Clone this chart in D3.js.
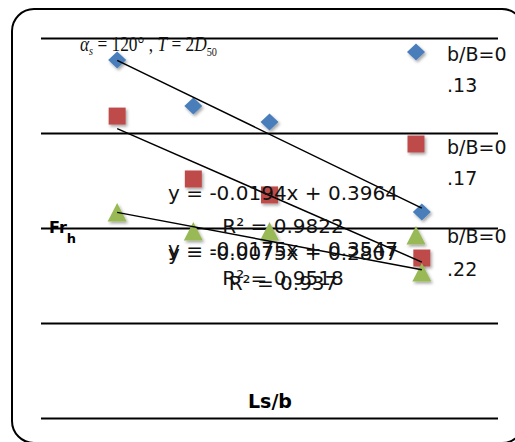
<!DOCTYPE html>
<html><head><meta charset="utf-8">
<script src="https://cdn.jsdelivr.net/npm/d3@7"></script>
<style>html,body{margin:0;padding:0;background:#fff;overflow:hidden}</style>
</head><body>
<svg id="c" width="515" height="442"></svg>
<script>
// ---- data ----
const xVals = [2, 3, 4, 6];
const seriesNames = ["b/B=0.13", "b/B=0.17", "b/B=0.22"];
const series1 = [0.3584, 0.3342, 0.3258, 0.2784];
const series2 = [0.3289, 0.2958, 0.2874, 0.2542];
const series3 = [0.2779, 0.2679, 0.2679, 0.2463];
const yTicks = [0.17, 0.22, 0.27, 0.32, 0.37];
const eqLabels = ["y = -0.0194x + 0.3964", "y = -0.0175x + 0.3547", "y = -0.0075x + 0.2807"];
const r2Labels = ["R² = 0.9822", "R² = 0.9518", "R² = 0.937"];
const xTitle = "Ls/b";
const yTitle = "Fr";
const yTitleSub = "h";

// ---- layout ----
const svg = d3.select("#c");
const L = 41, R = 498, T = 38, B = 418;
const x = d3.scaleLinear().domain([1, 7]).range([L, R]);
const y = d3.scaleLinear().domain([0.17, 0.37]).range([B, T]);
const colors = ["#4A7EBB", "#BE4B48", "#98B954"];
const shapes = ["diamond", "square", "triangle"];

const defs = svg.append("defs");
const f = defs.append("filter").attr("id", "sh").attr("x", "-50%").attr("y", "-50%").attr("width", "200%").attr("height", "200%");
f.append("feDropShadow").attr("dx", 1.5).attr("dy", 2).attr("stdDeviation", 1.4).attr("flood-color", "#000").attr("flood-opacity", 0.35);

// border
svg.append("rect").attr("x", 12).attr("y", 9).attr("width", 512).attr("height", 434)
  .attr("rx", 22).attr("fill", "#fff").attr("stroke", "#000").attr("stroke-width", 2);

// gridlines
const gy = svg.append("g").attr("transform", `translate(${L},0)`)
  .call(d3.axisLeft(y).tickValues(yTicks).tickSize(-(R - L)).tickFormat(""));
gy.select(".domain").remove();
gy.selectAll(".tick line").attr("stroke", "#000").attr("stroke-width", 2);

// title annotation
const tt = svg.append("text").attr("font-family", "Liberation Serif, Times New Roman, serif")
  .attr("font-size", 22).attr("fill", "#111");
tt.append("tspan").attr("font-style", "italic").text("α");
tt.append("tspan").attr("font-style", "italic").attr("font-size", 13).attr("dy", 4).text("s");
tt.append("tspan").attr("dy", -4).text(" = 120° , ");
tt.append("tspan").attr("font-style", "italic").text("T");
tt.append("tspan").text(" = 2");
tt.append("tspan").attr("font-style", "italic").text("D");
tt.append("tspan").attr("font-size", 13).attr("dy", 5).text("50");
const tw = tt.node().getComputedTextLength();
tt.attr("transform", `translate(80,51) scale(${137 / tw},1)`);

// marker path generator
function markerPath(shape) {
  if (shape === "diamond") return "M0,-8.5L9,0L0,8.5L-9,0Z";
  if (shape === "square") return "M-8.5,-8.5H8.5V8.5H-8.5Z";
  return "M0,-10L9.5,8.5H-9.5Z";
}

const allSeries = [series1, series2, series3];

// markers
allSeries.forEach((vals, i) => {
  svg.append("g").selectAll("path").data(vals).join("path")
    .attr("d", markerPath(shapes[i]))
    .attr("transform", (d, j) => `translate(${x(xVals[j])},${y(d)})`)
    .attr("fill", colors[i]).attr("filter", "url(#sh)");
});

// trendlines (least squares)
function fit(xs, ys) {
  const mx = d3.mean(xs), my = d3.mean(ys);
  let sxy = 0, sxx = 0;
  xs.forEach((xv, k) => { sxy += (xv - mx) * (ys[k] - my); sxx += (xv - mx) ** 2; });
  const m = sxy / sxx;
  return { m, b: my - m * mx };
}
allSeries.forEach((vals) => {
  const { m, b } = fit(xVals, vals);
  const x0 = d3.min(xVals), x1 = d3.max(xVals);
  svg.append("line").attr("x1", x(x0)).attr("y1", y(m * x0 + b))
    .attr("x2", x(x1)).attr("y2", y(m * x1 + b))
    .attr("stroke", "#000").attr("stroke-width", 1.5);
});

// equation labels (overlapping as in the original)
const eqY = [200, 256, 260], r2Y = [233, 285, 290];
const font = "DejaVu Sans, sans-serif";
eqLabels.forEach((t, i) => {
  svg.append("text").attr("x", 283).attr("y", eqY[i]).attr("text-anchor", "middle")
    .attr("font-family", font).attr("font-size", 20).attr("fill", "#111").text(t);
  svg.append("text").attr("x", 283).attr("y", r2Y[i]).attr("text-anchor", "middle")
    .attr("font-family", font).attr("font-size", 20).attr("fill", "#111").text(r2Labels[i]);
});

// axis titles
svg.append("text").attr("x", 270).attr("y", 408).attr("text-anchor", "middle")
  .attr("font-family", font).attr("font-weight", "bold").attr("font-size", 19).attr("fill", "#000").text(xTitle);
const yt = svg.append("text").attr("x", 49).attr("y", 233)
  .attr("font-family", font).attr("font-weight", "bold").attr("font-size", 16).attr("fill", "#000");
yt.append("tspan").text(yTitle);
yt.append("tspan").attr("font-size", 13).attr("dy", 10).text(yTitleSub);

// legend
const legY = [52, 144, 236];
const legText = [[61, 92], [154, 185], [243, 276]];
seriesNames.forEach((name, i) => {
  svg.append("path").attr("d", markerPath(shapes[i]))
    .attr("transform", `translate(416,${legY[i]})`).attr("fill", colors[i]).attr("filter", "url(#sh)");
  const lines = [name.slice(0, 5), name.slice(5)];
  lines.forEach((ln, k) => {
    svg.append("text").attr("x", 447).attr("y", legText[i][k])
      .attr("font-family", font).attr("font-size", 19).attr("fill", "#111").text(ln);
  });
});
</script>
</body></html>
